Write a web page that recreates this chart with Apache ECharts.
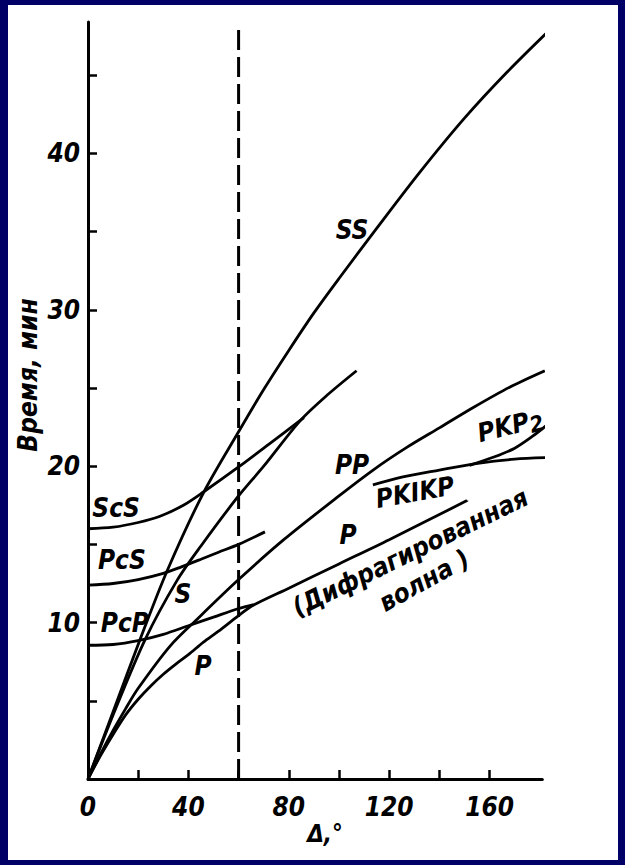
<!DOCTYPE html>
<html>
<head>
<meta charset="utf-8">
<script src="https://cdn.jsdelivr.net/npm/echarts@6/dist/echarts.min.js"></script>
<style>
html,body{margin:0;padding:0;background:#000066;}
#chart{width:625px;height:865px;}
</style>
</head>
<body>
<div id="chart"></div>
<script>
// Travel-time curves of seismic phases: epicentral distance Δ (°) against time (min)
const P      = [[0,0],[5,1.5],[10,2.85],[15,4.1],[20,5.1],[25,5.95],[30,6.7],[35,7.35],[40,7.95],[46,8.75],[52,9.45],[60,10.45],[66,11.12],[80,12.2],[100,13.75],[120,15.3],[151,17.8]];
const PP     = [[0,0],[5,1.6],[10,3.1],[15,4.5],[20,5.8],[32.7,8.5],[44,10.3],[60,12.75],[78,15.3],[100,18.1],[114,19.8],[127,21.2],[140,22.45],[153.5,23.75],[168,25.05],[182,26.1]];
const PcP    = [[0,8.55],[10,8.6],[20,8.85],[30,9.25],[40,9.8],[50,10.35],[60,10.9],[66,11.15]];
const PcS    = [[0,12.4],[10,12.5],[20,12.75],[30,13.15],[37,13.55],[45,14.05],[52,14.5],[60,15.0],[70.5,15.8]];
const ScS    = [[0,16.0],[10,16.1],[20,16.4],[28.7,16.8],[38,17.5],[46,18.35],[60,19.95],[72,21.4],[86,23.1]];
const S      = [[0,0],[10,4.1],[22.7,8.9],[35.5,12.7],[45,14.9],[59.5,18.0],[70,20.0],[84.5,22.9],[95,24.5],[107,26.1]];
const SS     = [[0,0],[10,4.3],[20.7,8.9],[31.5,13.3],[46,18.3],[60,22.2],[70,24.9],[80,27.4],[90,29.8],[100,32.0],[115,35.2],[132,38.75],[150,42.25],[167,45.2],[184,47.9]];
const PKIKP  = [[113.5,18.8],[125,19.3],[140,19.75],[156,20.2],[170,20.45],[183,20.55]];
const PKP2   = [[152,20.05],[162,20.6],[170,21.15],[177,21.9],[183.4,22.7]];

// Reference distance marked by the dashed vertical line
const markerDelta = 60;
const markerTop = 48.2;

// Axis ticks and labels
const xTicks  = [0,20,40,60,80,100,120,140,160];
const xLabels = [0,40,80,120,160];
const yTicks  = [0,5,10,15,20,25,30,35,40,45];
const yLabels = [10,20,30,40];

// Phase names and where they sit (Δ, minutes)
const labelText = ['SS','ScS','PcS','PcP','S','P','PP','P','PKIKP','PKP2','(Дифрагированная','волна )'];
const labelAt   = [[105.2,35.1],[11.2,17.3],[13.5,14.0],[14.7,9.97],[37.8,11.8],[45.8,7.2],[105.2,20.06],[103.6,15.6],[130.3,18.34],[168.1,22.6],[128.3,14.5],[133.9,12.7]];
const labelTilt = [0,0,0,0,0,0,0,0,10,14,26,29];

const FONT = "'Liberation Sans Narrow','DejaVu Sans Condensed','Liberation Sans',sans-serif";
const INK = '#000';

const curves = {P, PP, PcP, PcS, ScS, S, SS, PKIKP, PKP2};
const lineSeries = Object.keys(curves).map(name => ({
  name, type: 'line', data: curves[name], showSymbol: false, smooth: 0.3,
  clip: false, silent: true,
  lineStyle: {color: INK, width: 2.8}
}));

const textStyleBase = {
  fontFamily: FONT, fontStyle: 'italic', fontWeight: 'bold', color: INK,
  textBorderWidth: 0, textShadowBlur: 0
};

const chart = echarts.init(document.getElementById('chart'), null, {renderer: 'svg'});
chart.setOption({
  backgroundColor: '#000066',
  animation: false,
  graphic: [
    {type: 'rect', z: -100, shape: {x: 8, y: 5, width: 610, height: 855}, style: {fill: '#ffffff'}},
    {type: 'text', x: 28, y: 375, rotation: Math.PI / 2,
      style: {text: 'Время, мин', font: "italic bold 26px 'Liberation Sans Narrow','DejaVu Sans Condensed',sans-serif", fill: INK, textAlign: 'center', textVerticalAlign: 'middle'}},
    {type: 'text', x: 325, y: 834,
      style: {text: 'Δ,°', font: "italic bold 24px 'Liberation Sans Narrow','DejaVu Sans Condensed',sans-serif", fill: INK, textAlign: 'center', textVerticalAlign: 'middle'}}
  ],
  grid: {left: 88, right: 82.7, top: 22, bottom: 86, containLabel: false},
  xAxis: {
    type: 'value', min: 0, max: 181,
    axisLine: {show: true, onZero: false, lineStyle: {color: INK, width: 3}},
    axisTick: {show: true, inside: true, length: 9, customValues: xTicks, lineStyle: {color: INK, width: 2.5}},
    axisLabel: Object.assign({customValues: xLabels, fontSize: 26, margin: 15, formatter: v => String(v)}, textStyleBase),
    splitLine: {show: false}
  },
  yAxis: {
    type: 'value', min: 0, max: 48.4,
    axisLine: {show: true, onZero: false, lineStyle: {color: INK, width: 3}},
    axisTick: {show: true, inside: true, length: 9, customValues: yTicks, lineStyle: {color: INK, width: 2.5}},
    axisLabel: Object.assign({customValues: yLabels, fontSize: 26, margin: 8, formatter: v => String(v)}, textStyleBase),
    splitLine: {show: false}
  },
  series: [
    {
      name: 'marker', type: 'line', data: [[markerDelta, 0], [markerDelta, markerTop]],
      showSymbol: false, silent: true, clip: false,
      lineStyle: {color: INK, width: 3, type: [20, 7]}
    },
    ...lineSeries,
    {
      name: 'labels', type: 'scatter', symbolSize: 0, silent: true, clip: false,
      itemStyle: {color: INK, opacity: 1},
      data: labelText.map((t, i) => ({
        value: labelAt[i],
        label: Object.assign({
          show: true, position: 'inside', rotate: labelTilt[i], fontSize: 26,
          formatter: t === 'PKP2' ? '{a|PKP}{s|2}' : t,
          rich: {
            a: Object.assign({fontSize: 26}, textStyleBase),
            s: Object.assign({fontSize: 22, padding: [10, 0, 0, 0]}, textStyleBase)
          }
        }, textStyleBase)
      }))
    }
  ]
});
</script>
</body>
</html>
